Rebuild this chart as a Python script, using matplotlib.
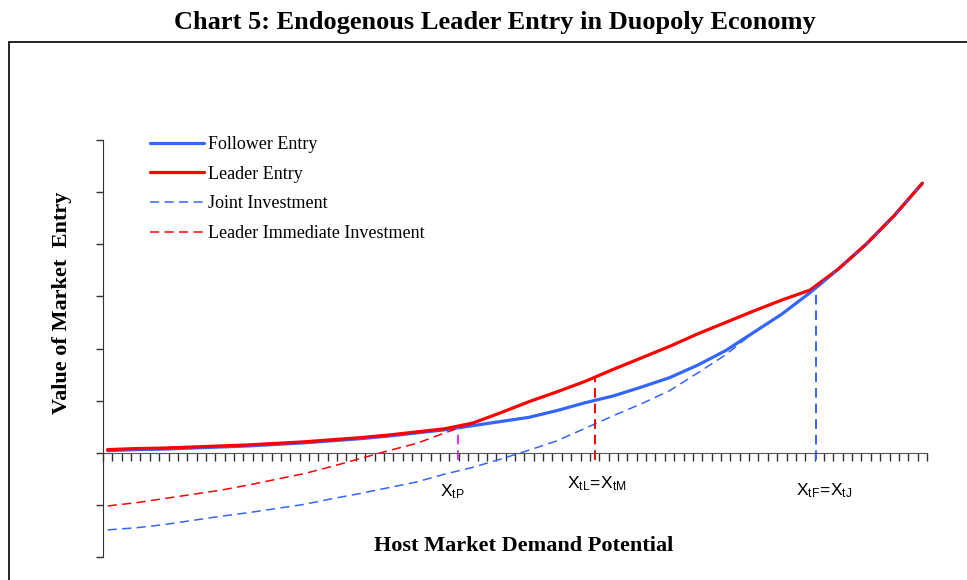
import numpy as np
import matplotlib
matplotlib.use("Agg")
import matplotlib.pyplot as plt
from matplotlib.patches import Rectangle

# category positions (Excel category axis, 88 categories, sampled every 3rd)
x_cat = [0.5, 3.5, 6.5, 9.5, 12.5, 15.5, 18.5, 21.5, 24.5, 27.5,
         30.5, 33.5, 36.5, 39.5, 42.5, 45.5, 48.5, 51.5, 54.5, 57.5,
         60.5, 63.5, 66.5, 69.5, 72.5, 75.5, 78.5, 81.5, 84.5, 87.5]

follower_entry = [0.04, 0.06, 0.07, 0.09, 0.11, 0.13, 0.16, 0.19, 0.23, 0.27,
                  0.32, 0.38, 0.44, 0.52, 0.60, 0.68, 0.81, 0.96, 1.09, 1.26,
                  1.44, 1.68, 1.96, 2.31, 2.66, 3.07, 3.52, 4.00, 4.55, 5.17]

leader_entry = [0.06, 0.08, 0.09, 0.11, 0.13, 0.15, 0.18, 0.21, 0.25, 0.29,
                0.34, 0.40, 0.46, 0.57, 0.77, 0.98, 1.17, 1.37, 1.60, 1.82,
                2.04, 2.28, 2.50, 2.72, 2.93, 3.12, 3.52, 4.00, 4.55, 5.17]

# joint investment below follower until it merges (index 23 on)
joint_left = [-1.48, -1.44, -1.38, -1.30, -1.22, -1.15, -1.07, -0.99, -0.88, -0.78,
              -0.67, -0.56, -0.41, -0.28, -0.12, 0.05, 0.23, 0.47, 0.71, 0.94,
              1.19, 1.53, 1.88]
joint_investment = joint_left + follower_entry[23:]

# leader immediate investment below leader until X_tP (index 13 on)
immediate_left = [-1.02, -0.96, -0.88, -0.80, -0.72, -0.62, -0.51, -0.40, -0.26, -0.11,
                  0.04, 0.18, 0.38]
leader_immediate = immediate_left + leader_entry[13:]

# thresholds: position and value on curve
x_tP, v_tP = 37.9, 0.48
x_tL, v_tL = 52.5, 1.44
x_tF, v_tF = 76.1, 3.18

plt.rcParams['mathtext.fontset'] = 'custom'
plt.rcParams['mathtext.rm'] = 'Liberation Sans'
plt.rcParams['mathtext.it'] = 'Liberation Sans'

W, H = 967, 580
fig = plt.figure(figsize=(W / 100, H / 100), dpi=100)

fig.patches.append(Rectangle((9 / W, -0.1), 1.1, 1 - 42 / H + 0.1, transform=fig.transFigure,
                             fill=False, edgecolor='black', lw=1.2))

ax = fig.add_axes([103 / W, 23 / H, 824 / W, 417 / H])

blue = '#3366FF'
red = '#FF0000'

ax.plot(x_cat, follower_entry, color=blue, lw=2.3, label='Follower Entry', solid_capstyle='round')
ax.plot(x_cat, leader_entry, color=red, lw=2.3, label='Leader Entry', solid_capstyle='round')
ax.plot(x_cat, joint_investment, color=blue, lw=1.1, dashes=(6, 3.5), label='Joint Investment')
ax.plot(x_cat, leader_immediate, color=red, lw=1.1, dashes=(6, 3.5), label='Leader Immediate Investment')

ax.plot([x_tP, x_tP], [-0.13, v_tP], color='#EE33EE', lw=1.4, dashes=(5, 3))
ax.plot([x_tL, x_tL], [-0.13, v_tL], color=red, lw=1.4, dashes=(5, 3))
ax.plot([x_tF, x_tF], [-0.13, v_tF], color=blue, lw=1.4, dashes=(5, 3))

lab_kw = dict(ha='center', va='center', fontsize=12.5, family='Liberation Sans')
ax.text(37.3, -0.75, r'$\mathrm{X_{tP}}$', **lab_kw)
ax.text(52.7, -0.59, r'$\mathrm{X_{tL}\!=\!X_{tM}}$', **lab_kw)
ax.text(77.0, -0.73, r'$\mathrm{X_{tF}\!=\!X_{tJ}}$', **lab_kw)

ax.set_xlim(0, 88)
ax.set_ylim(-2, 6)
ax.set_xticks(np.arange(0, 89))
ax.set_yticks(np.arange(-2, 7))
ax.set_xticklabels([])
ax.set_yticklabels([])
ax.tick_params(axis='x', direction='out', length=6, width=1, color='#333333')
ax.tick_params(axis='y', direction='out', length=5, width=1, color='#333333')
ax.spines['bottom'].set_position(('data', 0))
ax.spines['bottom'].set_color('#555555')
ax.spines['left'].set_color('#333333')
ax.spines['top'].set_visible(False)
ax.spines['right'].set_visible(False)
ax.patch.set_alpha(0)

leg = ax.legend(loc='upper left', bbox_to_anchor=((150 - 103) / 824, (557 - 136) / 417),
                frameon=False, prop={'family': 'Liberation Serif', 'size': 13},
                handlelength=3.0, handletextpad=0.22, labelspacing=0.70,
                borderpad=0, borderaxespad=0)

fig.text(495 / W, 1 - 23 / H, 'Chart 5: Endogenous Leader Entry in Duopoly Economy',
         ha='center', va='center', family='Liberation Serif', weight='bold', fontsize=19)
fig.text(62 / W, 1 - 303 / H, 'Value of Market  Entry', rotation=90,
         ha='center', va='center', family='Liberation Serif', weight='bold', fontsize=16)
fig.text(524 / W, 1 - 546 / H, 'Host Market Demand Potential',
         ha='center', va='center', family='Liberation Serif', weight='bold', fontsize=16)

fig.savefig('out.png', dpi=100)
